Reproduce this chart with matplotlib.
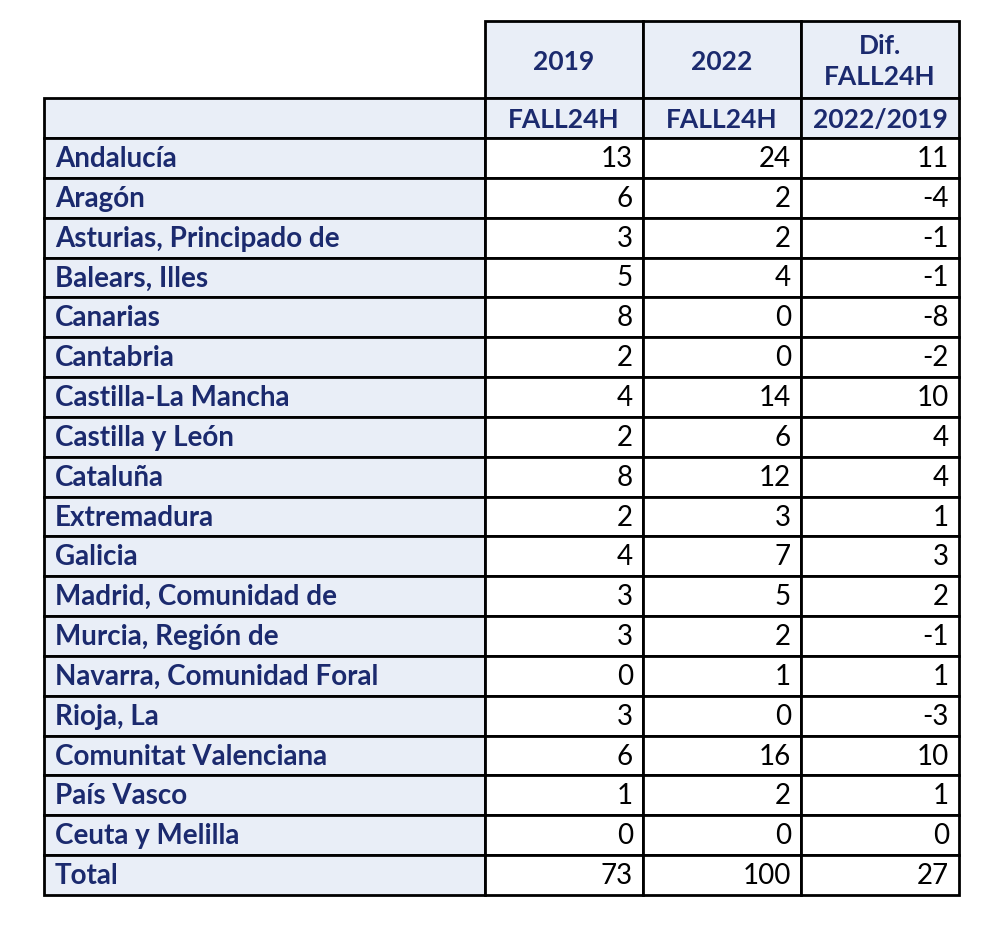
import matplotlib.pyplot as plt
from matplotlib.patches import Rectangle

# Datos
regiones = [
    "Andalucía", "Aragón", "Asturias, Principado de", "Balears, Illes",
    "Canarias", "Cantabria", "Castilla-La Mancha", "Castilla y León",
    "Cataluña", "Extremadura", "Galicia", "Madrid, Comunidad de",
    "Murcia, Región de", "Navarra, Comunidad Foral", "Rioja, La",
    "Comunitat Valenciana", "País Vasco", "Ceuta y Melilla", "Total",
]
fall_2019 = [13, 6, 3, 5, 8, 2, 4, 2, 8, 2, 4, 3, 3, 0, 3, 6, 1, 0, 73]
fall_2022 = [24, 2, 2, 4, 0, 0, 14, 6, 12, 3, 7, 5, 2, 1, 0, 16, 2, 0, 100]
dif = [11, -4, -1, -1, -8, -2, 10, 4, 4, 1, 3, 2, -1, 1, -3, 10, 1, 0, 27]

cabecera_1 = ["2019", "2022", "Dif.\nFALL24H"]
cabecera_2 = ["FALL24H", "FALL24H", "2022/2019"]

# Estilo
azul = "#1B2A6E"
fondo = "#E9EEF7"
fuente = "Lato"
tam = 20
tam_cab = 19

# Geometría en píxeles
cols = [44, 485, 643, 801, 959]
y_top = 21
y_h2 = 98
y_rows = 138
alto = (895 - y_rows) / len(regiones)

fig = plt.figure(figsize=(10, 9.25), dpi=100)
ax = fig.add_axes([0, 0, 1, 1])
ax.set_xlim(0, 1000)
ax.set_ylim(925, 0)
ax.axis('off')


def celda(x0, y0, x1, y1, color):
    ax.add_patch(Rectangle((x0, y0), x1 - x0, y1 - y0, facecolor=color,
                           edgecolor='black', linewidth=2, zorder=1))


# Cabecera superior
for j, txt in enumerate(cabecera_1):
    celda(cols[j + 1], y_top, cols[j + 2], y_h2, fondo)
    ax.text((cols[j + 1] + cols[j + 2]) / 2, (y_top + y_h2) / 2 + 2, txt,
            ha='center', va='center', color=azul, fontsize=tam_cab,
            fontweight='bold', family=fuente, linespacing=1.35)

# Cabecera inferior
celda(cols[0], y_h2, cols[1], y_rows, fondo)
for j, txt in enumerate(cabecera_2):
    celda(cols[j + 1], y_h2, cols[j + 2], y_rows, fondo)
    ax.text((cols[j + 1] + cols[j + 2]) / 2, (y_h2 + y_rows) / 2 + 2, txt,
            ha='center', va='center', color=azul, fontsize=tam_cab,
            fontweight='bold', family=fuente)

# Filas
for i, nombre in enumerate(regiones):
    y0 = y_rows + i * alto
    y1 = y0 + alto
    yc = (y0 + y1) / 2 + 1
    celda(cols[0], y0, cols[1], y1, fondo)
    ax.text(cols[0] + 11, yc, nombre, ha='left', va='center', color=azul,
            fontsize=tam, fontweight='bold', family=fuente)
    for j, serie in enumerate([fall_2019, fall_2022, dif]):
        celda(cols[j + 1], y0, cols[j + 2], y1, 'white')
        ax.text(cols[j + 2] - 10, yc, str(serie[i]), ha='right', va='center',
                color='black', fontsize=tam, family=fuente)

fig.savefig('out.png', dpi=100)
